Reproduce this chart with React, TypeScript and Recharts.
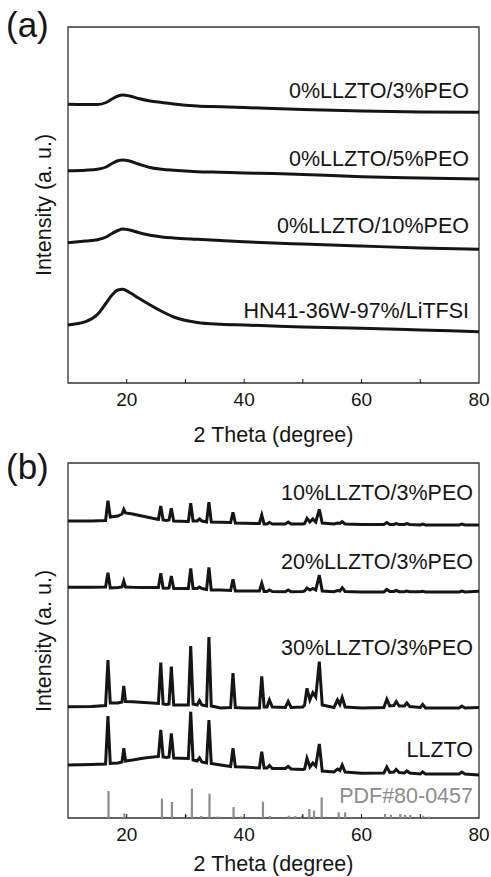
import React from 'react'
import { LineChart, Line, XAxis, YAxis, ReferenceArea, ReferenceLine } from 'recharts'

const FONT = '"Liberation Sans", Arial, sans-serif'
const INK = '#151515'

// x ticks (2 theta), labels only on the even twenties
const xTicks = [20, 30, 40, 50, 60, 70, 80]

// ---- panel (a): amorphous humps, intensity in arbitrary units (px above box bottom)
const aX = [10, 13, 15, 16.5, 17.5, 18.5, 19.3, 20.5, 22, 24, 26, 28, 32, 36, 40, 45, 50, 60, 70, 80]
const aPeo3 = [278.7, 278.5, 278.5, 280.5, 284, 287, 288, 287, 284.5, 282, 280.5, 279, 277, 276.3, 275.5, 274.5, 273.5, 272, 271, 270.7]
const aPeo5 = [212.3, 212.8, 213.7, 216, 219.5, 222.3, 223, 222, 219, 215.5, 213.7, 212.7, 211.3, 210.7, 210, 209.5, 208.5, 206.3, 205, 204]
const aPeo10 = [140.3, 142, 143.3, 146, 149.5, 152.5, 154, 153, 150.5, 147.7, 146, 145, 143.7, 142.5, 141.3, 140, 139, 137, 135, 133.7]
const aHn41 = [58, 61.3, 68.5, 80, 88, 93, 93.7, 90.5, 85, 78, 71.5, 66, 60.5, 58.7, 58, 57, 56, 54.7, 53, 51.3]
const aLabels = ['0%LLZTO/3%PEO', '0%LLZTO/5%PEO', '0%LLZTO/10%PEO', 'HN41-36W-97%/LiTFSI']

// ---- panel (b): crystalline patterns
const bX = [10, 14, 16.4, 16.8, 17.2, 18.5, 19.2, 19.5, 19.8, 21, 23, 25.4, 25.8, 26.2, 26.8, 27.2, 27.6, 28.0, 30.5, 30.9,
  31.3, 32.0, 32.4, 32.8, 33.6, 34.0, 34.4, 36, 37.7, 38.1, 38.5, 40, 42.6, 43.0, 43.4, 43.9, 44.3, 44.8, 47.0, 47.5,
  48.0, 50.0, 50.3, 50.7, 51.2, 51.7, 52.2, 52.8, 53.3, 55.3, 55.9, 56.3, 56.7, 57.2, 60, 63.8, 64.3, 64.8, 65.5, 65.9,
  66.4, 67.3, 67.7, 68.2, 70.0, 70.4, 70.9, 76.6, 77.1, 77.6, 80]
const b10 = [297, 297, 297.5, 317.3, 301, 302, 304, 308.7, 305, 304, 301.5, 298.5, 312, 298, 297.5, 298, 309.7, 297, 296.5, 314.7,
  297, 297, 299, 297, 296, 315.7, 296, 295.7, 295.5, 305.7, 295, 294.7, 294.5, 303, 294, 294, 295.5, 294, 294, 296,
  294, 294, 294.5, 299.7, 296, 299, 296, 308.7, 295, 294, 295, 294.5, 296.3, 294, 293.5, 293.5, 295.5, 293.5, 293.5, 294.5,
  293.5, 293.5, 294.5, 293.5, 293, 294, 293, 293, 294, 293, 293]
const b20 = [230.7, 230.7, 231, 245.3, 230, 230.5, 231, 237, 231, 230.7, 230.5, 230.5, 244.7, 230, 229.7, 230, 242, 229.5, 229.5, 249.7,
  229.5, 229.5, 231, 229.5, 228.5, 250.7, 228, 228, 227.5, 238.7, 227, 227, 227, 234.7, 226.5, 226.5, 228, 226.5, 226.3, 228,
  226.3, 226.5, 227, 230, 228, 229.5, 228, 243, 227, 226.3, 227.5, 227, 230.3, 226.5, 226, 226, 228.5, 226.5, 226.5, 227.5,
  226.3, 226.3, 227, 226.3, 226.3, 226.8, 226, 226, 227, 226, 226.7]
const b30 = [111.3, 111.5, 112.5, 158, 115, 115, 116, 132, 116.5, 116.3, 115.5, 114.5, 155.3, 114, 113.5, 114, 151.3, 113, 113, 172,
  114, 113, 117.3, 113, 112, 181, 112, 110, 110.5, 145, 110.5, 110, 110, 141.7, 111, 111, 118, 111, 110.5, 116.5,
  110.5, 111, 113, 129.7, 118, 125.3, 121, 156.3, 113, 110.5, 118, 113.5, 120.5, 111, 110, 110.5, 118.7, 112, 112.5, 116.5,
  112, 112, 115, 111.5, 110.5, 113.5, 110, 110, 112, 110, 110.5]
const bLlzto = [53, 53.5, 54, 102, 54.5, 55, 56, 69.7, 57, 58, 60, 61.5, 88, 61, 60.5, 61, 84.7, 60, 59.5, 106.3,
  58, 57, 60, 56, 55, 98, 54.5, 53, 51.5, 69.7, 51.3, 51, 50, 66.3, 50, 50, 52.5, 49.5, 49.5, 51.5,
  49, 48.5, 49, 59.7, 51, 55, 52, 74, 47, 46, 49, 47.5, 53, 46, 44.7, 45, 51, 45.5, 46, 48.5,
  45.5, 45, 47, 45, 44, 46, 44, 44, 46, 44, 43]
const bLabels = ['10%LLZTO/3%PEO', '20%LLZTO/3%PEO', '30%LLZTO/3%PEO', 'LLZTO']

// reference card PDF#80-0457 sticks
const pdfX = [16.9, 19.6, 26.0, 27.7, 30.1, 31.1, 32.7, 34.1, 35.5, 38.2, 39.5, 43.2, 44.4, 47.6, 48.7, 49.9, 51.1, 51.9, 53.2, 56.1, 57.2, 60.9, 64.0, 65.0, 66.6, 67.4, 68.3, 70.5, 71.5]
const pdfH = [27, 4.5, 19.3, 16, 3, 29.3, 2, 24.3, 1.5, 11, 1.5, 16.3, 2, 2.3, 2, 2.5, 9, 7.3, 20.7, 5.7, 5.7, 1, 4, 3.3, 4, 3.3, 3, 2.3, 1.5]

const aData = aX.map((x, i) => ({ x, p3: aPeo3[i], p5: aPeo5[i], p10: aPeo10[i], hn: aHn41[i] }))
const bData = bX.map((x, i) => ({ x, l10: b10[i], l20: b20[i], l30: b30[i], ll: bLlzto[i] }))

function XTick(props: any) {
  const { x, y, payload } = props
  const v = payload.value
  return (
    <g>
      {v < 80 && <line x1={x} x2={x} y1={y} y2={y - 4} stroke={INK} strokeWidth={1} />}
      {v % 20 === 0 && (
        <text x={x} y={y + 23} textAnchor="middle" fontSize={19} fill={INK} fontFamily={FONT}>
          {v}
        </text>
      )}
    </g>
  )
}

function Frame({ top }: { top: number }) {
  return (
    <ReferenceArea x1={10} x2={80} y1={0} y2={top} fill="none" stroke="#333" strokeWidth={1.3} ifOverflow="visible" />
  )
}

const lineProps = { dot: false, stroke: INK, strokeWidth: 3, isAnimationActive: false }

export default function App() {
  const label = { fontFamily: FONT, fontSize: 21.5, fill: INK }
  return (
    <div style={{ position: 'absolute', left: 0, top: 0, width: 491, height: 877, background: '#fff' }}>
      <div style={{ position: 'absolute', left: 0, top: 0 }}>
        <LineChart width={491} height={440} data={aData} margin={{ top: 27, right: 12, bottom: 27, left: 68 }}>
          <XAxis dataKey="x" type="number" domain={[10, 80]} ticks={xTicks} interval={0} height={30}
            axisLine={false} tickLine={false} tickSize={0} tickMargin={0} tick={<XTick />} />
          <YAxis type="number" domain={[0, 356]} hide allowDataOverflow />
          <Frame top={356} />
          <Line type="monotone" dataKey="p3" {...lineProps} />
          <Line type="monotone" dataKey="p5" {...lineProps} />
          <Line type="monotone" dataKey="p10" {...lineProps} />
          <Line type="monotone" dataKey="hn" {...lineProps} />
        </LineChart>
      </div>
      <div style={{ position: 'absolute', left: 0, top: 440 }}>
        <LineChart width={491} height={437} data={bData} margin={{ top: 23, right: 12, bottom: 29, left: 68 }}>
          <XAxis dataKey="x" type="number" domain={[10, 80]} ticks={xTicks} interval={0} height={30}
            axisLine={false} tickLine={false} tickSize={0} tickMargin={0} tick={<XTick />} />
          <YAxis type="number" domain={[0, 355]} hide allowDataOverflow />
          <Frame top={355} />
          {pdfX.map((px, i) => (
            <ReferenceLine key={px} segment={[{ x: px, y: 0 }, { x: px, y: pdfH[i] }]}
              stroke="#8c8c8c" strokeWidth={2.2} ifOverflow="visible" />
          ))}
          <Line type="linear" dataKey="l10" {...lineProps} />
          <Line type="linear" dataKey="l20" {...lineProps} />
          <Line type="linear" dataKey="l30" {...lineProps} />
          <Line type="linear" dataKey="ll" {...lineProps} />
        </LineChart>
      </div>
      <svg width={491} height={877} style={{ position: 'absolute', left: 0, top: 0, pointerEvents: 'none' }}>
        <text x={6} y={37} fontFamily={FONT} fontSize={35} fill={INK}>(a)</text>
        <text x={6} y={479} fontFamily={FONT} fontSize={35} fill={INK}>(b)</text>
        {aLabels.map((t, i) => (
          <text key={t} x={469} y={[98, 166, 233, 318][i]} textAnchor="end" {...label}>{t}</text>
        ))}
        {bLabels.map((t, i) => (
          <text key={t} x={473} y={[500, 569, 655, 757][i]} textAnchor="end" {...label}>{t}</text>
        ))}
        <text x={473} y={803} textAnchor="end" {...label} fill="#8c8c8c">PDF#80-0457</text>
        <text x={273.5} y={442} textAnchor="middle" {...label}>2 Theta (degree)</text>
        <text x={273.5} y={871} textAnchor="middle" {...label}>2 Theta (degree)</text>
        <text transform="translate(51,205) rotate(-90)" textAnchor="middle" {...label}>Intensity (a. u.)</text>
        <text transform="translate(51,641) rotate(-90)" textAnchor="middle" {...label}>Intensity (a. u.)</text>
      </svg>
    </div>
  )
}
